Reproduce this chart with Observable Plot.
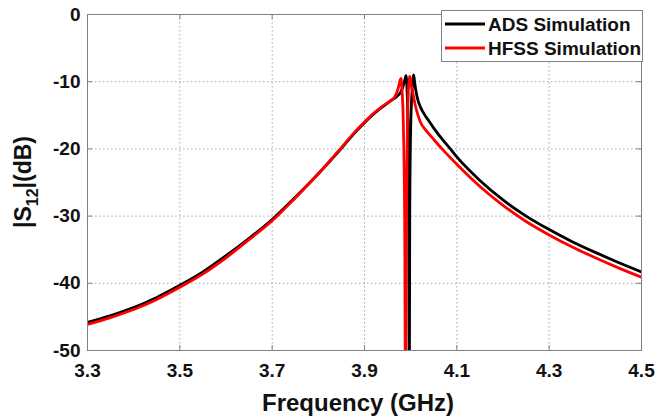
<!DOCTYPE html>
<html><head><meta charset="utf-8">
<script src="https://cdn.jsdelivr.net/npm/d3@7"></script>
<script src="https://cdn.jsdelivr.net/npm/@observablehq/plot@0.6"></script>
<style>html,body{margin:0;padding:0;background:#fff}</style>
</head><body><div id="chart"></div>
<script>
// ---- data ----
const adsFreq = [3.30,3.35,3.40,3.45,3.50,3.55,3.60,3.65,3.70,3.75,3.80,3.85,3.875,3.90,3.925,3.95,3.96,3.97,3.978,3.983,3.987,3.990,3.992,3.994,3.996,3.997,3.998,4.000,4.003,4.0065,4.009,4.012,4.016,4.022,4.030,4.036,4.050,4.070,4.086,4.100,4.150,4.200,4.250,4.300,4.350,4.400,4.450,4.500];
const adsS12 = [-45.8,-44.8,-43.6,-42.1,-40.3,-38.3,-35.9,-33.3,-30.5,-27.2,-23.7,-19.9,-17.9,-16.1,-14.5,-13.2,-12.7,-12.2,-11.6,-10.8,-9.8,-9.1,-11,-16,-30,-60,-30,-17,-11.5,-9.0,-10.3,-11.6,-12.8,-13.9,-14.9,-15.5,-16.9,-18.7,-20.0,-21.2,-24.7,-27.6,-30.0,-32.0,-33.8,-35.4,-36.9,-38.3];
const hfssFreq = [3.30,3.35,3.40,3.45,3.50,3.55,3.60,3.65,3.70,3.75,3.80,3.85,3.875,3.90,3.925,3.94,3.955,3.965,3.970,3.974,3.977,3.979,3.981,3.984,3.987,3.989,3.991,3.993,3.995,3.998,4.001,4.005,4.010,4.015,4.021,4.035,4.050,4.068,4.100,4.150,4.200,4.250,4.300,4.350,4.400,4.450,4.500];
const hfssS12 = [-46.1,-45.1,-43.9,-42.4,-40.6,-38.6,-36.2,-33.5,-30.7,-27.3,-23.7,-19.8,-17.8,-16.0,-14.4,-13.6,-12.9,-12.3,-11.6,-10.7,-9.8,-9.5,-11,-16,-30,-60,-30,-17,-11.5,-9.2,-10.4,-11.8,-13.5,-14.8,-16.0,-17.4,-18.6,-20.0,-22.3,-25.6,-28.4,-30.8,-32.8,-34.6,-36.2,-37.7,-39.1];
const xTicks = [3.3,3.5,3.7,3.9,4.1,4.3,4.5];
const yTicks = [0,-10,-20,-30,-40,-50];
const seriesNames = ["ADS Simulation","HFSS Simulation"];
const seriesColors = ["#000000","#ff0000"];
const xLabel = "Frequency (GHz)";

// ---- tables ----
const ads = adsFreq.map((f,i)=>({f, s: adsS12[i]}));
const hfss = hfssFreq.map((f,i)=>({f, s: hfssS12[i]}));

const font = "'Liberation Sans', Arial, Helvetica, sans-serif";
const axisGray = "#808080";
const gridStyle = {stroke:"#a8a8a8", strokeOpacity:1, strokeWidth:1, strokeDasharray:"1.5,2.5"};
const W = 657, H = 417, mL = 87, mR = 16, mT = 14, mB = 67;
const fw = W - mL - mR, fh = H - mT - mB, tk = 5;

const plot = Plot.plot({
  width: W, height: H,
  marginLeft: mL, marginRight: mR, marginTop: mT, marginBottom: mB,
  style: {fontFamily: font, fontWeight: "bold", fontSize: "19px", color: "#111", background: "#fff", overflow: "visible"},
  x: {domain: [3.3, 4.5], label: null},
  y: {domain: [-50, 0], label: null},
  marks: [
    Plot.gridX(xTicks, gridStyle),
    Plot.gridY(yTicks, gridStyle),
    Plot.line(ads, {x: "f", y: "s", stroke: seriesColors[0], strokeWidth: 2.8, clip: true, curve: "monotone-x", strokeLinejoin: "round"}),
    Plot.line(hfss, {x: "f", y: "s", stroke: seriesColors[1], strokeWidth: 2.8, clip: true, curve: "monotone-x", strokeLinejoin: "round"}),
    Plot.frame({stroke: axisGray}),
    // inward ticks on all four sides
    Plot.tickX(xTicks, {x: d => d, stroke: axisGray, insetTop: fh - tk}),
    Plot.tickX(xTicks, {x: d => d, stroke: axisGray, insetBottom: fh - tk}),
    Plot.tickY(yTicks, {y: d => d, stroke: axisGray, insetRight: fw - tk}),
    Plot.tickY(yTicks, {y: d => d, stroke: axisGray, insetLeft: fw - tk}),
    Plot.axisX(xTicks, {anchor: "bottom", tickSize: 0, tickPadding: 13, label: null, tickFormat: d => d.toFixed(1)}),
    Plot.axisY(yTicks, {anchor: "left", tickSize: 0, tickPadding: 7, label: null, tickFormat: d => String(d)})
  ]
});
document.getElementById("chart").appendChild(plot);

const svg = d3.select(plot);
// x label
svg.append("text").attr("x", 358).attr("y", 411).attr("text-anchor", "middle")
  .style("font-size", "24px").style("font-weight", "bold").attr("fill", "#111").text(xLabel);
// y label with subscript
const yl = svg.append("text").attr("transform", "translate(31,182) rotate(-90)").attr("text-anchor", "middle")
  .style("font-size", "23px").style("font-weight", "bold").attr("fill", "#111");
yl.append("tspan").text("|S");
yl.append("tspan").attr("dy", 7).style("font-size", "16px").text("12");
yl.append("tspan").attr("dy", -7).text("|(dB)");

// legend
const lg = svg.append("g");
lg.append("rect").attr("x", 441.5).attr("y", 10.5).attr("width", 201).attr("height", 51)
  .attr("fill", "#fff").attr("stroke", axisGray);
seriesNames.forEach((name, i) => {
  const y = 24 + i * 24;
  lg.append("line").attr("x1", 445).attr("x2", 485).attr("y1", y).attr("y2", y)
    .attr("stroke", seriesColors[i]).attr("stroke-width", 2.8);
  lg.append("text").attr("x", 488).attr("y", y + 7).attr("text-anchor", "start")
    .style("font-size", "19px").style("font-weight", "bold")
    .attr("fill", "#111").text(name);
});
</script>
</body></html>
